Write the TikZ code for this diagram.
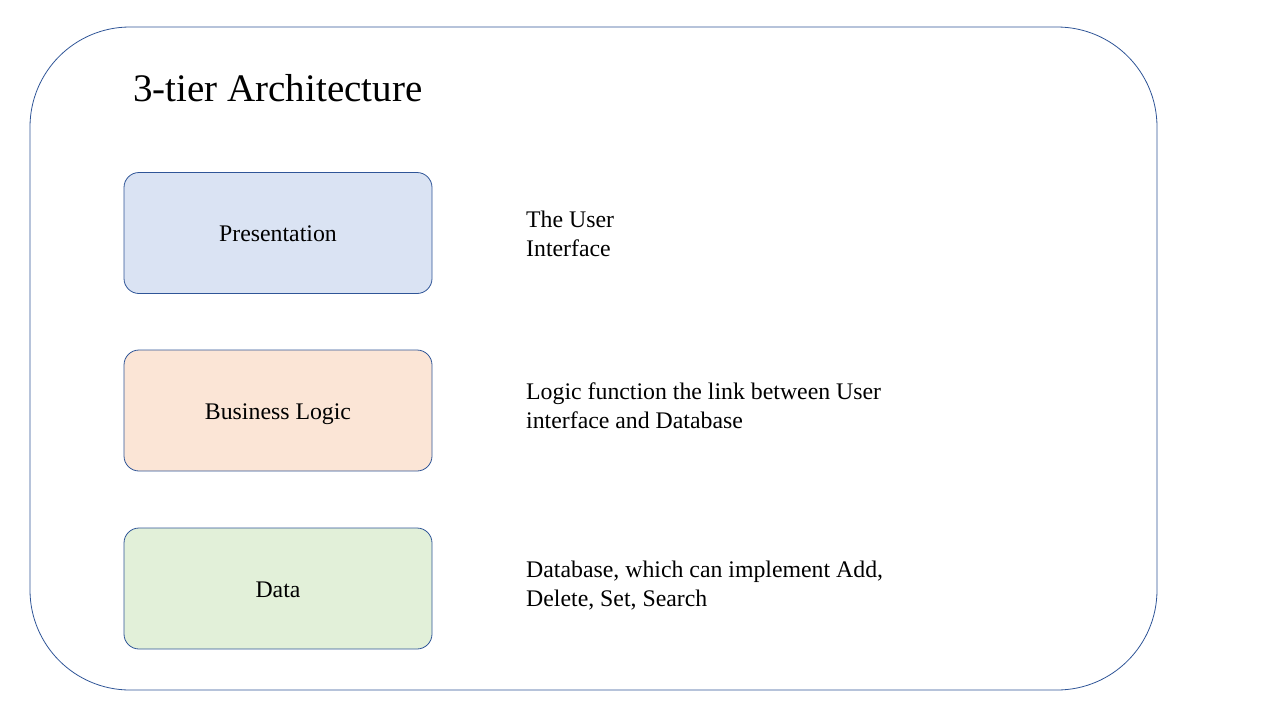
\documentclass[tikz,border=0pt]{standalone}
\usepackage{fontspec}
\setmainfont{Liberation Serif}
\usepackage{tikz}
\usetikzlibrary{positioning}
\definecolor{edgeblue}{HTML}{2F5597}
\definecolor{presfill}{HTML}{DAE3F3}
\definecolor{logicfill}{HTML}{FBE5D6}
\definecolor{datafill}{HTML}{E2F0D9}

\begin{document}
\begin{tikzpicture}[x=1pt, y=-1pt,
  tier/.style={draw=edgeblue, line width=0.8pt, rounded corners=15pt, minimum width=308pt, minimum height=121pt, text height=18pt, text depth=1pt, font=\fontsize{23.8}{28}\selectfont},
  note/.style={anchor=west, align=left, inner sep=0pt, font=\fontsize{23.8}{29}\selectfont}]
\useasboundingbox (0,0) rectangle (1280,720);
\draw[edgeblue, line width=0.8pt, rounded corners=100pt] (30,27) rectangle (1157,690);
\node[anchor=west, inner sep=0pt, font=\fontsize{39}{44}\selectfont] (title) at (133,88) {3-tier Architecture};

\node[tier, fill=presfill] (P) at (278,233) {Presentation};
\node[tier, fill=logicfill] (B) at (278,410.5) {Business Logic};
\node[tier, fill=datafill] (D) at (278,588.5) {Data};

\node[note] (Pn) at (526,234) {The User\\Interface};
\node[note] (Bn) at (526,406) {Logic function the link between User\\interface and Database};
\node[note] (Dn) at (526,586) {Database, which can implement Add,\\Delete, Set, Search};
\end{tikzpicture}
\end{document}
